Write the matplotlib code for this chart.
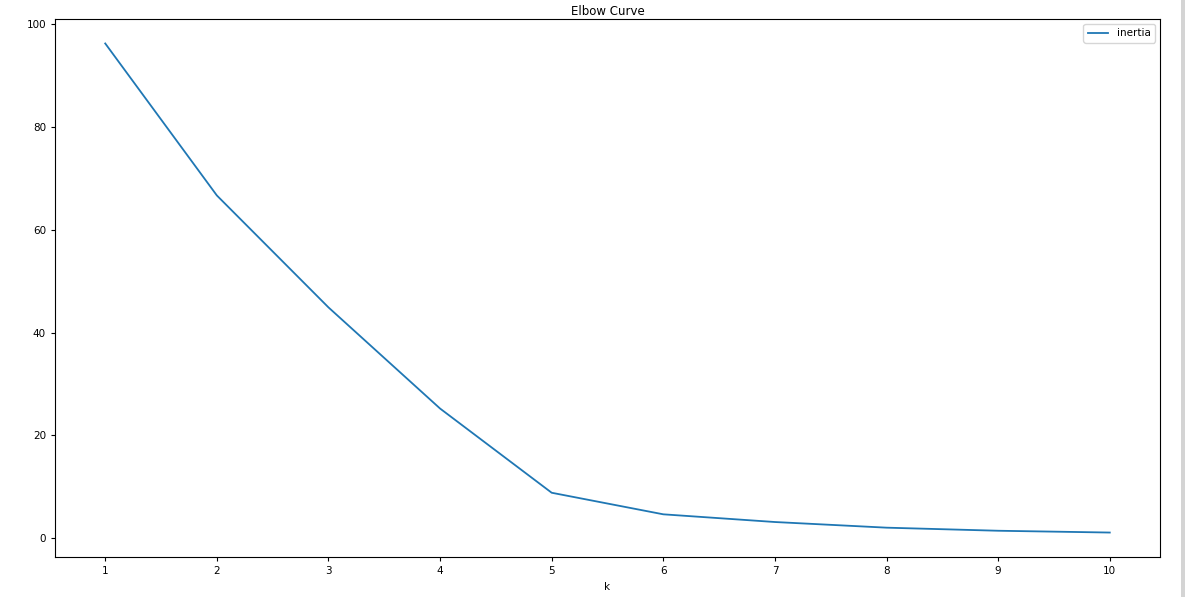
import matplotlib
matplotlib.use('Agg')
import matplotlib.pyplot as plt
import pandas as pd
from matplotlib.patches import Rectangle

k_values = [1, 2, 3, 4, 5, 6, 7, 8, 9, 10]
inertia = [96.3, 66.7, 44.9, 25.2, 8.8, 4.6, 3.1, 2.0, 1.4, 1.05]

df_elbow = pd.DataFrame({'k': k_values, 'inertia': inertia})

plt.rcParams['font.size'] = 7.5
fig = plt.figure(figsize=(11.85, 5.97), dpi=100)
ax = fig.add_axes([55 / 1185, 1 - 557 / 597, (1160 - 55) / 1185, (557 - 19) / 597])

df_elbow.plot(x='k', y='inertia', ax=ax, xticks=k_values,
              color='#1f77b4', linewidth=1.3)

ax.set_title('Elbow Curve', fontsize=8.5, pad=3)
ax.tick_params(length=3, width=0.8, labelsize=7.5)
for s in ax.spines.values():
    s.set_linewidth(0.8)
ax.xaxis.label.set_fontsize(7.5)
ax.legend(loc='upper right', fontsize=7.5)

# notebook scrollbar strip on the right
fig.patches.append(Rectangle((1181 / 1185, 0), 4 / 1185, 1, transform=fig.transFigure,
                             facecolor='#d4d4d4', edgecolor='none'))

fig.savefig('out.png', dpi=100)
